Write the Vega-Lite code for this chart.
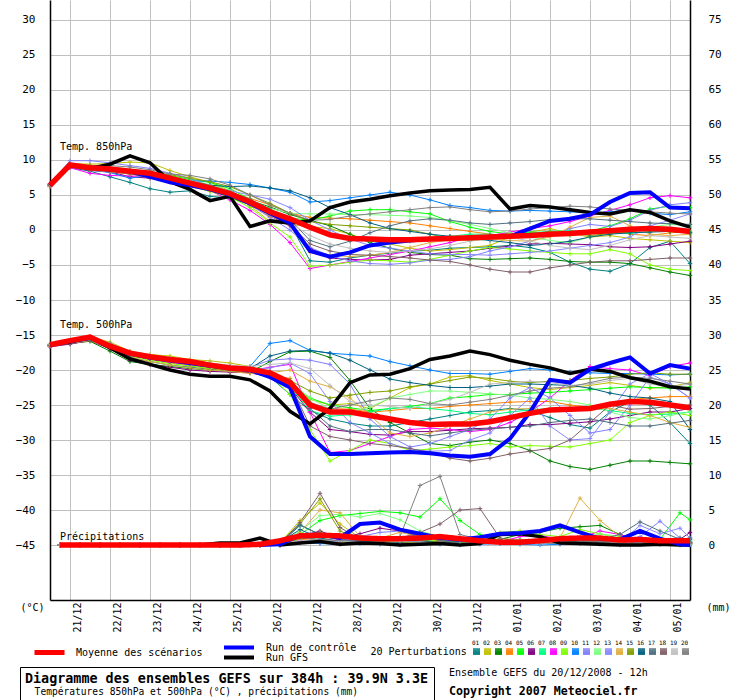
{
"$schema": "https://vega.github.io/schema/vega-lite/v6.json",
"width": 640, "height": 600,
"autosize": {"type": "none"},
"padding": {"left": 50, "top": 0, "right": 50, "bottom": 100},
"background": "white",
"config": {
 "view": {"stroke": null},
 "font": "DejaVu Sans Mono",
 "axis": {"labelFont": "DejaVu Sans Mono", "titleFont": "DejaVu Sans Mono", "labelColor": "black", "titleColor": "black", "ticks": false, "domainColor": "black", "domainWidth": 1.5, "gridColor": "#c0c0c0", "gridOpacity": 1, "gridWidth": 1},
 "legend": {"labelFont": "DejaVu Sans Mono", "titleFont": "DejaVu Sans Mono", "labelColor": "black", "titleColor": "black", "padding": 0, "labelLimit": 600, "titleLimit": 600},
 "title": {"font": "DejaVu Sans Mono", "subtitleFont": "DejaVu Sans Mono"}
},
"title": {"text": "Ensemble GEFS du 20/12/2008 - 12h", "subtitle": "Copyright 2007 Meteociel.fr", "orient": "top", "anchor": "start", "frame": "group", "offset": 0, "dx": 399, "dy": 698, "fontSize": 10, "fontWeight": "normal", "color": "black", "subtitleFontSize": 11.6, "subtitleFontWeight": "bold", "subtitleColor": "black", "subtitlePadding": 8},
"datasets": {
 "temp": [
  {"h":0,"v":"850","m":6.4,"c":6.4,"g":6.4,"01":6.3,"02":6.6,"03":6.4,"04":6.4,"05":6.5,"06":6.2,"07":6.5,"08":6.3,"09":6.4,"10":6.6,"11":6.6,"12":6.5,"13":6.4,"14":6.2,"15":6.5,"16":6.5,"17":6.4,"18":6.4,"19":6.5,"20":6.5},
  {"h":12,"v":"850","m":9.3,"c":9.2,"g":9.3,"01":8.9,"02":9.5,"03":9.2,"04":9.1,"05":9.4,"06":9.0,"07":9.3,"08":8.9,"09":9.2,"10":9.3,"11":9.9,"12":9.4,"13":9.4,"14":9.0,"15":9.4,"16":9.3,"17":9.3,"18":9.1,"19":9.4,"20":9.5},
  {"h":24,"v":"850","m":8.9,"c":8.9,"g":8.8,"01":8.4,"02":9.4,"03":8.8,"04":8.6,"05":9.0,"06":8.5,"07":9.0,"08":8.1,"09":8.7,"10":8.6,"11":9.9,"12":9.0,"13":9.0,"14":8.6,"15":9.1,"16":8.9,"17":8.8,"18":8.7,"19":9.0,"20":9.2},
  {"h":36,"v":"850","m":8.7,"c":8.6,"g":9.4,"01":7.6,"02":9.5,"03":8.5,"04":8.3,"05":8.9,"06":8.3,"07":8.8,"08":7.8,"09":8.5,"10":8.2,"11":9.6,"12":8.8,"13":8.7,"14":8.3,"15":8.8,"16":8.6,"17":8.6,"18":8.4,"19":8.8,"20":9.2},
  {"h":48,"v":"850","m":8.4,"c":8.4,"g":10.6,"01":6.8,"02":9.7,"03":8.2,"04":8.0,"05":8.6,"06":7.6,"07":8.6,"08":7.7,"09":8.1,"10":7.4,"11":9.2,"12":8.5,"13":8.4,"14":8.0,"15":8.6,"16":8.3,"17":8.3,"18":8.0,"19":8.5,"20":9.0},
  {"h":60,"v":"850","m":8.1,"c":7.6,"g":9.6,"01":5.9,"02":9.6,"03":7.8,"04":7.6,"05":8.3,"06":7.4,"07":8.2,"08":7.7,"09":7.7,"10":7.8,"11":8.8,"12":8.2,"13":8.0,"14":7.5,"15":8.3,"16":8.0,"17":7.9,"18":7.6,"19":8.1,"20":8.6},
  {"h":72,"v":"850","m":7.4,"c":6.8,"g":6.9,"01":5.4,"02":8.5,"03":7.2,"04":7.0,"05":7.8,"06":6.9,"07":7.5,"08":7.2,"09":7.0,"10":7.2,"11":8.1,"12":7.6,"13":7.3,"14":6.8,"15":7.9,"16":7.5,"17":7.4,"18":7.0,"19":7.5,"20":8.0},
  {"h":84,"v":"850","m":6.7,"c":6.4,"g":5.8,"01":5.6,"02":7.6,"03":6.6,"04":6.7,"05":7.2,"06":6.5,"07":7.0,"08":6.5,"09":6.3,"10":7.0,"11":7.4,"12":7.0,"13":6.6,"14":6.2,"15":7.4,"16":7.0,"17":6.7,"18":6.4,"19":7.0,"20":7.8},
  {"h":96,"v":"850","m":6.0,"c":5.8,"g":4.2,"01":4.8,"02":6.8,"03":5.8,"04":6.2,"05":6.8,"06":5.7,"07":6.4,"08":5.6,"09":5.5,"10":7.0,"11":6.3,"12":6.5,"13":6.0,"14":5.6,"15":6.9,"16":6.4,"17":6.2,"18":5.8,"19":6.3,"20":7.3},
  {"h":108,"v":"850","m":5.2,"c":5.0,"g":4.8,"01":4.6,"02":5.6,"03":5.4,"04":5.4,"05":5.9,"06":5.0,"07":5.6,"08":4.3,"09":4.7,"10":6.8,"11":5.0,"12":5.6,"13":5.6,"14":4.8,"15":6.2,"16":6.2,"17":5.4,"18":5.0,"19":5.5,"20":6.4},
  {"h":120,"v":"850","m":4.0,"c":3.8,"g":0.5,"01":3.6,"02":3.5,"03":4.2,"04":4.5,"05":4.4,"06":3.6,"07":4.0,"08":2.8,"09":3.2,"10":6.5,"11":3.6,"12":4.2,"13":5.0,"14":3.6,"15":5.0,"16":6.3,"17":4.4,"18":3.8,"19":4.0,"20":5.0},
  {"h":132,"v":"850","m":2.6,"c":2.4,"g":1.3,"01":2.3,"02":1.2,"03":3.3,"04":3.6,"05":2.8,"06":2.0,"07":2.6,"08":0.8,"09":1.0,"10":6.0,"11":1.8,"12":3.1,"13":4.4,"14":2.0,"15":3.8,"16":6.0,"17":3.0,"18":2.2,"19":2.4,"20":3.6},
  {"h":144,"v":"850","m":1.6,"c":1.0,"g":1.0,"01":0.9,"02":0.8,"03":2.2,"04":2.4,"05":1.7,"06":0.6,"07":1.6,"08":-1.8,"09":-1.0,"10":5.4,"11":0.0,"12":2.4,"13":3.2,"14":0.8,"15":2.4,"16":5.6,"17":1.5,"18":0.7,"19":1.0,"20":2.4},
  {"h":156,"v":"850","m":0.4,"c":-3.0,"g":1.3,"01":-4.4,"02":0.5,"03":1.4,"04":1.8,"05":1.4,"06":-2.6,"07":0.5,"08":-5.5,"09":-5.2,"10":4.0,"11":-2.5,"12":2.3,"13":1.4,"14":-3.2,"15":1.2,"16":4.6,"17":-1.5,"18":-2.0,"19":-0.8,"20":1.4},
  {"h":168,"v":"850","m":-0.7,"c":-3.8,"g":3.2,"01":-4.6,"02":0.2,"03":0.6,"04":1.7,"05":2.0,"06":-4.0,"07":-0.5,"08":-5.0,"09":-5.0,"10":4.2,"11":-3.7,"12":2.3,"13":0.0,"14":-3.6,"15":0.8,"16":3.2,"17":-2.4,"18":-3.0,"19":-2.0,"20":1.5},
  {"h":180,"v":"850","m":-1.2,"c":-3.2,"g":4.0,"01":-4.0,"02":-0.6,"03":-0.6,"04":1.6,"05":2.7,"06":-4.2,"07":-1.2,"08":-4.5,"09":-4.6,"10":4.6,"11":-4.4,"12":2.2,"13":-1.3,"14":-3.8,"15":0.6,"16":2.2,"17":-1.6,"18":-3.5,"19":-2.6,"20":2.0},
  {"h":192,"v":"850","m":-1.3,"c":-2.2,"g":4.4,"01":-3.6,"02":-1.5,"03":-1.8,"04":1.4,"05":2.9,"06":-4.3,"07":-1.6,"08":-4.0,"09":-4.3,"10":5.0,"11":-4.8,"12":2.2,"13":-2.2,"14":-3.6,"15":0.4,"16":1.0,"17":-0.4,"18":-3.6,"19":-3.0,"20":2.3},
  {"h":204,"v":"850","m":-1.4,"c":-1.8,"g":4.9,"01":-3.3,"02":-2.0,"03":-2.6,"04":1.2,"05":2.9,"06":-4.2,"07":-1.8,"08":-3.5,"09":-4.4,"10":5.4,"11":-4.9,"12":2.1,"13":-2.6,"14":-3.2,"15":0.2,"16":0.2,"17":0.6,"18":-3.8,"19":-3.2,"20":2.6},
  {"h":216,"v":"850","m":-1.4,"c":-1.5,"g":5.3,"01":-3.0,"02":-2.6,"03":-3.2,"04":1.0,"05":2.6,"06":-3.6,"07":-1.6,"08":-3.0,"09":-4.6,"10":5.0,"11":-4.7,"12":2.0,"13":-3.0,"14":-2.5,"15":0.0,"16":-0.2,"17":1.3,"18":-4.0,"19":-3.0,"20":2.9},
  {"h":228,"v":"850","m":-1.3,"c":-1.3,"g":5.6,"01":-2.9,"02":-3.0,"03":-3.5,"04":0.6,"05":2.3,"06":-3.4,"07":-1.2,"08":-2.4,"09":-4.2,"10":4.3,"11":-4.3,"12":1.8,"13":-3.4,"14":-1.8,"15":-0.6,"16":-0.6,"17":1.6,"18":-4.3,"19":-2.7,"20":3.2},
  {"h":240,"v":"850","m":-1.2,"c":-1.2,"g":5.7,"01":-2.6,"02":-2.8,"03":-3.6,"04":0.2,"05":1.2,"06":-3.2,"07":-0.9,"08":-1.8,"09":-3.6,"10":3.5,"11":-4.2,"12":1.3,"13":-3.5,"14":-1.4,"15":-1.2,"16":-0.9,"17":1.4,"18":-4.5,"19":-2.2,"20":3.3},
  {"h":252,"v":"850","m":-1.1,"c":-1.1,"g":5.8,"01":-2.5,"02":-2.5,"03":-4.1,"04":-0.2,"05":0.4,"06":-3.0,"07":-0.6,"08":-1.0,"09":-3.0,"10":3.2,"11":-3.8,"12":0.8,"13":-3.5,"14":-1.3,"15":-1.5,"16":-1.2,"17":1.0,"18":-5.0,"19":-1.6,"20":2.9},
  {"h":264,"v":"850","m":-1.0,"c":-1.0,"g":6.1,"01":-2.4,"02":-2.2,"03":-4.2,"04":-0.6,"05":-0.2,"06":-2.6,"07":-0.6,"08":-0.8,"09":-2.5,"10":2.8,"11":-3.0,"12":0.2,"13":-3.6,"14":-1.3,"15":-1.3,"16":-1.5,"17":0.8,"18":-5.6,"19":-1.2,"20":2.6},
  {"h":276,"v":"850","m":-0.9,"c":-0.9,"g":3.0,"01":-2.2,"02":-1.0,"03":-4.1,"04":-0.8,"05":-0.6,"06":-2.3,"07":-0.8,"08":-0.3,"09":-2.7,"10":2.7,"11":-2.4,"12":-0.4,"13":-3.4,"14":-1.5,"15":-0.9,"16":-1.8,"17":1.0,"18":-6.0,"19":-1.0,"20":2.7},
  {"h":288,"v":"850","m":-0.8,"c":0.2,"g":3.5,"01":-2.5,"02":-0.3,"03":-4.0,"04":-0.6,"05":-0.3,"06":-2.0,"07":-0.4,"08":0.2,"09":-3.0,"10":2.8,"11":-1.6,"12":-1.0,"13":-3.2,"14":-1.6,"15":-0.6,"16":-2.2,"17":1.2,"18":-6.0,"19":-1.6,"20":3.0},
  {"h":300,"v":"850","m":-0.6,"c":1.3,"g":3.3,"01":-3.2,"02":0.2,"03":-4.2,"04":-0.7,"05":-0.4,"06":-1.9,"07":-0.2,"08":0.6,"09":-3.2,"10":2.7,"11":-0.8,"12":-1.5,"13":-3.0,"14":-1.0,"15":-0.2,"16":-2.0,"17":1.5,"18":-5.4,"19":-2.2,"20":3.2},
  {"h":312,"v":"850","m":-0.5,"c":1.6,"g":2.9,"01":-4.6,"02":-0.5,"03":-4.5,"04":-0.5,"05":-0.8,"06":-2.0,"07":-0.1,"08":1.2,"09":-3.4,"10":2.6,"11":0.2,"12":-1.8,"13":-2.6,"14":0.4,"15":-0.4,"16":-1.6,"17":1.6,"18":-5.0,"19":-2.6,"20":3.4},
  {"h":324,"v":"850","m":-0.3,"c":2.2,"g":2.5,"01":-5.6,"02":-1.0,"03":-4.6,"04":-0.2,"05":-0.2,"06":-2.1,"07":-0.3,"08":2.0,"09":-3.4,"10":2.4,"11":0.8,"12":-1.0,"13":-2.2,"14":1.8,"15":-0.8,"16":-1.0,"17":1.6,"18":-4.6,"19":-2.8,"20":3.3},
  {"h":336,"v":"850","m":-0.1,"c":4.0,"g":2.3,"01":-5.9,"02":-0.8,"03":-4.6,"04":0.2,"05":0.6,"06":-2.4,"07":-0.4,"08":2.8,"09":-2.8,"10":2.6,"11":0.5,"12":-0.3,"13":-1.8,"14":2.0,"15":-0.5,"16":-0.6,"17":1.4,"18":-4.4,"19":-2.2,"20":3.0},
  {"h":348,"v":"850","m":0.1,"c":5.3,"g":2.9,"01":-4.8,"02":-1.2,"03":-4.8,"04":-0.6,"05":1.6,"06":-2.5,"07":-0.5,"08":3.6,"09":-3.4,"10":2.9,"11":1.4,"12":0.0,"13":-1.0,"14":0.6,"15":-0.3,"16":-0.4,"17":1.2,"18":-4.4,"19":-1.4,"20":2.8},
  {"h":360,"v":"850","m":0.2,"c":5.4,"g":2.5,"01":-2.5,"02":-1.4,"03":-5.4,"04":-0.8,"05":3.0,"06":-2.4,"07":-0.2,"08":4.6,"09":-5.0,"10":2.4,"11":2.8,"12":0.4,"13":0.6,"14":-0.6,"15":0.2,"16":-0.3,"17":1.0,"18":-4.2,"19":-0.8,"20":2.6},
  {"h":372,"v":"850","m":0.1,"c":3.2,"g":1.3,"01":-1.6,"02":-1.6,"03":-6.0,"04":-0.4,"05":3.4,"06":-2.0,"07":0.0,"08":4.9,"09":-5.6,"10":2.2,"11":3.6,"12":0.8,"13":1.4,"14":-0.8,"15":-0.2,"16":-0.2,"17":0.9,"18":-4.0,"19":-1.0,"20":2.4},
  {"h":384,"v":"850","m":-0.2,"c":3.1,"g":0.4,"01":-4.8,"02":-1.8,"03":-6.5,"04":-0.2,"05":3.2,"06":-1.6,"07":-0.3,"08":4.6,"09":-5.8,"10":2.6,"11":3.9,"12":0.6,"13":2.3,"14":-0.6,"15":-0.4,"16":-0.4,"17":0.8,"18":-4.0,"19":-1.2,"20":2.3},
  {"h":0,"v":"500","m":-16.4,"c":-16.4,"g":-16.4,"01":-16.6,"02":-16.4,"03":-16.5,"04":-16.6,"05":-16.4,"06":-16.7,"07":-16.4,"08":-16.5,"09":-16.4,"10":-16.5,"11":-16.3,"12":-16.3,"13":-16.5,"14":-16.6,"15":-16.4,"16":-16.5,"17":-16.4,"18":-16.5,"19":-16.3,"20":-16.5},
  {"h":12,"v":"500","m":-15.8,"c":-15.9,"g":-16.0,"01":-16.2,"02":-15.8,"03":-16.2,"04":-16.1,"05":-16.0,"06":-16.3,"07":-16.0,"08":-16.0,"09":-16.0,"10":-16.0,"11":-15.8,"12":-15.8,"13":-16.0,"14":-16.2,"15":-16.0,"16":-16.1,"17":-16.0,"18":-16.1,"19":-15.8,"20":-15.9},
  {"h":24,"v":"500","m":-15.3,"c":-15.4,"g":-15.3,"01":-15.6,"02":-15.3,"03":-15.9,"04":-15.6,"05":-15.7,"06":-15.8,"07":-15.6,"08":-15.5,"09":-15.5,"10":-15.5,"11":-15.4,"12":-15.5,"13":-15.6,"14":-15.8,"15":-15.6,"16":-15.7,"17":-15.5,"18":-15.6,"19":-15.3,"20":-15.2},
  {"h":36,"v":"500","m":-16.6,"c":-16.6,"g":-16.8,"01":-16.8,"02":-16.0,"03":-17.3,"04":-16.6,"05":-16.6,"06":-17.0,"07":-16.5,"08":-16.5,"09":-16.7,"10":-16.5,"11":-16.3,"12":-16.4,"13":-16.6,"14":-16.8,"15":-16.6,"16":-16.6,"17":-16.4,"18":-16.6,"19":-16.2,"20":-16.2},
  {"h":48,"v":"500","m":-17.6,"c":-17.7,"g":-18.4,"01":-18.2,"02":-17.3,"03":-18.8,"04":-18.0,"05":-17.7,"06":-18.6,"07":-17.8,"08":-17.8,"09":-18.0,"10":-17.7,"11":-17.5,"12":-17.6,"13":-17.8,"14":-18.2,"15":-17.8,"16":-17.8,"17":-17.6,"18":-17.8,"19":-17.4,"20":-17.4},
  {"h":60,"v":"500","m":-18.1,"c":-18.2,"g":-19.2,"01":-18.8,"02":-17.8,"03":-19.2,"04":-18.5,"05":-18.2,"06":-19.2,"07":-18.3,"08":-18.5,"09":-18.6,"10":-18.3,"11":-18.0,"12":-18.2,"13":-18.4,"14":-18.8,"15":-18.3,"16":-18.2,"17":-18.2,"18":-18.4,"19":-17.9,"20":-18.0},
  {"h":72,"v":"500","m":-18.5,"c":-18.6,"g":-20.0,"01":-19.3,"02":-18.0,"03":-19.5,"04":-19.0,"05":-18.6,"06":-19.6,"07":-18.8,"08":-18.9,"09":-19.1,"10":-18.7,"11":-18.4,"12":-18.6,"13":-18.8,"14":-19.3,"15":-18.7,"16":-18.6,"17":-18.7,"18":-18.8,"19":-18.3,"20":-18.4},
  {"h":84,"v":"500","m":-18.8,"c":-19.0,"g":-20.6,"01":-19.6,"02":-18.5,"03":-19.8,"04":-19.4,"05":-19.0,"06":-20.0,"07":-19.1,"08":-19.3,"09":-19.4,"10":-19.1,"11":-18.8,"12":-19.0,"13":-19.2,"14":-19.7,"15":-19.1,"16":-18.9,"17":-19.0,"18":-19.2,"19":-18.7,"20":-18.8},
  {"h":96,"v":"500","m":-19.3,"c":-19.4,"g":-20.9,"01":-19.9,"02":-18.7,"03":-20.0,"04":-19.8,"05":-19.3,"06":-20.2,"07":-19.5,"08":-19.6,"09":-19.8,"10":-19.4,"11":-19.2,"12":-19.3,"13":-19.5,"14":-20.0,"15":-19.4,"16":-19.3,"17":-19.4,"18":-19.6,"19":-19.0,"20":-19.1},
  {"h":108,"v":"500","m":-19.7,"c":-19.8,"g":-20.9,"01":-20.0,"02":-19.0,"03":-20.2,"04":-20.0,"05":-19.6,"06":-20.3,"07":-19.7,"08":-19.8,"09":-19.9,"10":-19.7,"11":-19.5,"12":-19.6,"13":-19.8,"14":-20.2,"15":-19.7,"16":-19.6,"17":-19.6,"18":-19.9,"19":-19.3,"20":-19.5},
  {"h":120,"v":"500","m":-19.9,"c":-20.0,"g":-21.4,"01":-20.2,"02":-19.5,"03":-20.3,"04":-20.4,"05":-19.9,"06":-20.4,"07":-19.9,"08":-20.1,"09":-20.2,"10":-19.5,"11":-19.6,"12":-19.9,"13":-20.0,"14":-20.5,"15":-20.0,"16":-19.8,"17":-19.8,"18":-20.2,"19":-19.5,"20":-19.7},
  {"h":132,"v":"500","m":-20.4,"c":-21.0,"g":-23.0,"01":-21.0,"02":-20.2,"03":-18.8,"04":-20.8,"05":-20.4,"06":-21.0,"07":-20.6,"08":-19.6,"09":-20.8,"10":-16.2,"11":-18.6,"12":-20.3,"13":-19.7,"14":-20.4,"15":-20.5,"16":-18.0,"17":-20.3,"18":-20.6,"19":-19.2,"20":-20.3},
  {"h":144,"v":"500","m":-21.8,"c":-22.5,"g":-25.9,"01":-23.5,"02":-22.0,"03":-17.4,"04":-21.2,"05":-22.0,"06":-22.5,"07":-22.4,"08":-19.2,"09":-23.5,"10":-15.8,"11":-18.4,"12":-21.6,"13":-19.0,"14":-20.0,"15":-21.5,"16":-17.3,"17":-21.5,"18":-22.0,"19":-19.0,"20":-21.8},
  {"h":156,"v":"500","m":-25.0,"c":-29.5,"g":-27.7,"01":-25.8,"02":-24.2,"03":-17.3,"04":-25.0,"05":-24.0,"06":-26.0,"07":-25.8,"08":-26.0,"09":-28.5,"10":-17.2,"11":-18.6,"12":-24.0,"13":-20.5,"14":-21.6,"15":-23.0,"16":-17.2,"17":-25.5,"18":-28.0,"19":-19.8,"20":-24.6},
  {"h":168,"v":"500","m":-26.0,"c":-32.0,"g":-25.5,"01":-27.0,"02":-25.0,"03":-18.2,"04":-25.5,"05":-25.0,"06":-28.5,"07":-26.6,"08":-31.8,"09":-33.0,"10":-17.6,"11":-19.2,"12":-25.6,"13":-24.5,"14":-22.4,"15":-24.0,"16":-17.6,"17":-28.0,"18":-29.5,"19":-22.2,"20":-25.6},
  {"h":180,"v":"500","m":-26.0,"c":-32.0,"g":-21.8,"01":-27.6,"02":-24.8,"03":-21.5,"04":-25.6,"05":-25.4,"06":-28.8,"07":-26.4,"08":-31.5,"09":-31.5,"10":-17.8,"11":-22.0,"12":-26.0,"13":-27.5,"14":-24.0,"15":-23.6,"16":-18.6,"17":-28.8,"18":-30.0,"19":-24.5,"20":-25.0},
  {"h":192,"v":"500","m":-26.5,"c":-31.9,"g":-20.7,"01":-28.0,"02":-25.5,"03":-25.5,"04":-26.0,"05":-25.8,"06":-29.2,"07":-26.0,"08":-30.5,"09":-30.0,"10":-18.0,"11":-27.0,"12":-25.3,"13":-29.0,"14":-26.5,"15":-23.2,"16":-20.0,"17":-28.5,"18":-30.5,"19":-25.0,"20":-24.4},
  {"h":204,"v":"500","m":-27.0,"c":-31.8,"g":-20.6,"01":-28.0,"02":-24.0,"03":-27.5,"04":-25.8,"05":-25.5,"06":-29.3,"07":-25.5,"08":-29.5,"09":-30.5,"10":-18.8,"11":-29.5,"12":-24.0,"13":-30.5,"14":-29.0,"15":-23.0,"16":-21.3,"17":-28.5,"18":-30.8,"19":-25.2,"20":-24.0},
  {"h":216,"v":"500","m":-27.5,"c":-31.7,"g":-19.8,"01":-27.5,"02":-22.5,"03":-29.0,"04":-25.5,"05":-25.2,"06":-28.8,"07":-25.3,"08":-28.5,"09":-31.5,"10":-19.4,"11":-31.0,"12":-23.5,"13":-31.3,"14":-29.5,"15":-22.4,"16":-21.8,"17":-29.0,"18":-31.2,"19":-25.5,"20":-24.2},
  {"h":228,"v":"500","m":-27.8,"c":-31.9,"g":-18.5,"01":-27.0,"02":-22.0,"03":-30.5,"04":-25.5,"05":-24.8,"06":-28.8,"07":-25.5,"08":-28.3,"09":-31.3,"10":-20.0,"11":-30.5,"12":-23.0,"13":-31.6,"14":-29.0,"15":-22.0,"16":-22.2,"17":-29.4,"18":-31.8,"19":-24.8,"20":-24.8},
  {"h":240,"v":"500","m":-27.7,"c":-32.2,"g":-18.0,"01":-26.5,"02":-21.0,"03":-30.8,"04":-25.2,"05":-24.0,"06":-28.6,"07":-25.8,"08":-28.5,"09":-31.0,"10":-20.5,"11":-29.5,"12":-23.0,"13":-31.5,"14":-28.0,"15":-21.5,"16":-22.5,"17":-29.0,"18":-32.6,"19":-24.2,"20":-25.0},
  {"h":252,"v":"500","m":-27.7,"c":-32.4,"g":-17.3,"01":-26.0,"02":-20.8,"03":-30.3,"04":-25.0,"05":-23.8,"06":-28.4,"07":-26.2,"08":-28.8,"09":-30.8,"10":-20.5,"11":-28.5,"12":-23.2,"13":-30.0,"14":-27.0,"15":-21.0,"16":-22.5,"17":-28.6,"18":-33.0,"19":-23.2,"20":-24.6},
  {"h":264,"v":"500","m":-27.4,"c":-32.0,"g":-17.8,"01":-25.8,"02":-21.5,"03":-30.0,"04":-24.8,"05":-23.5,"06":-28.3,"07":-26.4,"08":-28.5,"09":-30.5,"10":-20.6,"11":-27.0,"12":-23.4,"13":-29.0,"14":-26.0,"15":-21.2,"16":-22.3,"17":-28.4,"18":-32.6,"19":-22.0,"20":-24.2},
  {"h":276,"v":"500","m":-26.8,"c":-29.8,"g":-18.6,"01":-25.5,"02":-22.0,"03":-30.5,"04":-24.6,"05":-23.5,"06":-28.2,"07":-26.0,"08":-27.5,"09":-31.0,"10":-20.2,"11":-24.0,"12":-23.6,"13":-26.5,"14":-25.6,"15":-21.6,"16":-22.0,"17":-28.2,"18":-32.0,"19":-21.8,"20":-23.6},
  {"h":288,"v":"500","m":-26.2,"c":-26.0,"g":-19.2,"01":-25.8,"02":-22.5,"03":-31.5,"04":-24.5,"05":-23.3,"06":-27.8,"07":-25.7,"08":-26.0,"09":-30.8,"10":-19.8,"11":-22.5,"12":-24.0,"13":-24.0,"14":-25.5,"15":-21.8,"16":-22.0,"17":-28.0,"18":-31.6,"19":-21.6,"20":-23.0},
  {"h":300,"v":"500","m":-25.7,"c":-21.4,"g":-19.7,"01":-26.8,"02":-22.8,"03":-33.0,"04":-24.5,"05":-23.2,"06":-27.8,"07":-25.5,"08":-24.0,"09":-30.9,"10":-20.0,"11":-24.0,"12":-24.2,"13":-28.0,"14":-25.8,"15":-21.6,"16":-22.1,"17":-27.5,"18":-31.2,"19":-21.8,"20":-22.6},
  {"h":312,"v":"500","m":-25.6,"c":-21.8,"g":-20.5,"01":-27.8,"02":-22.5,"03":-33.8,"04":-25.0,"05":-23.0,"06":-27.6,"07":-25.4,"08":-21.5,"09":-31.0,"10":-20.3,"11":-26.5,"12":-24.5,"13":-30.0,"14":-25.6,"15":-21.5,"16":-22.2,"17":-27.2,"18":-30.0,"19":-22.2,"20":-22.4},
  {"h":324,"v":"500","m":-25.5,"c":-19.9,"g":-19.9,"01":-28.3,"02":-22.2,"03":-34.2,"04":-25.3,"05":-22.8,"06":-27.4,"07":-25.4,"08":-19.5,"09":-30.5,"10":-20.4,"11":-29.0,"12":-25.0,"13":-29.8,"14":-25.4,"15":-21.2,"16":-22.6,"17":-27.0,"18":-27.5,"19":-22.0,"20":-21.8},
  {"h":336,"v":"500","m":-24.9,"c":-19.0,"g":-20.2,"01":-26.0,"02":-21.8,"03":-33.6,"04":-24.8,"05":-22.6,"06":-27.0,"07":-25.8,"08":-19.8,"09":-30.0,"10":-20.5,"11":-28.5,"12":-26.0,"13":-26.0,"14":-25.5,"15":-21.0,"16":-23.3,"17":-27.5,"18":-25.0,"19":-21.5,"20":-21.2},
  {"h":348,"v":"500","m":-24.5,"c":-18.2,"g":-21.1,"01":-24.5,"02":-22.2,"03":-33.0,"04":-24.2,"05":-22.4,"06":-26.5,"07":-26.2,"08":-20.0,"09":-27.5,"10":-20.5,"11":-25.0,"12":-26.8,"13":-22.0,"14":-26.0,"15":-20.6,"16":-23.8,"17":-28.0,"18":-25.6,"19":-21.2,"20":-21.0},
  {"h":360,"v":"500","m":-24.6,"c":-20.5,"g":-21.6,"01":-25.0,"02":-22.6,"03":-33.0,"04":-24.0,"05":-22.5,"06":-26.0,"07":-26.4,"08":-20.8,"09":-26.5,"10":-20.6,"11":-21.0,"12":-27.0,"13":-20.5,"14":-26.5,"15":-20.4,"16":-24.0,"17":-28.0,"18":-25.5,"19":-22.0,"20":-21.2},
  {"h":372,"v":"500","m":-25.0,"c":-19.3,"g":-22.4,"01":-27.5,"02":-22.4,"03":-33.2,"04":-23.8,"05":-22.6,"06":-26.0,"07":-26.3,"08":-19.5,"09":-26.0,"10":-20.7,"11":-22.0,"12":-26.5,"13":-22.0,"14":-27.5,"15":-20.6,"16":-24.5,"17":-27.6,"18":-25.2,"19":-22.4,"20":-21.6},
  {"h":384,"v":"500","m":-25.4,"c":-19.8,"g":-22.7,"01":-30.5,"02":-21.8,"03":-33.4,"04":-23.8,"05":-22.4,"06":-25.5,"07":-26.0,"08":-19.0,"09":-26.5,"10":-20.6,"11":-24.0,"12":-26.0,"13":-24.0,"14":-28.2,"15":-20.6,"16":-28.5,"17":-27.2,"18":-25.0,"19":-22.0,"20":-22.0}
 ],
 "prec": [
  {"h":6,"m":0,"c":0,"g":0,"01":0,"02":0,"03":0,"04":0,"05":0,"06":0,"07":0,"08":0,"09":0,"10":0,"11":0,"12":0,"13":0,"14":0,"15":0,"16":0,"17":0,"18":0,"19":0,"20":0},
  {"h":18,"m":0,"c":0,"g":0,"01":0,"02":0,"03":0,"04":0,"05":0,"06":0,"07":0,"08":0,"09":0,"10":0,"11":0,"12":0,"13":0,"14":0,"15":0,"16":0,"17":0,"18":0,"19":0,"20":0},
  {"h":30,"m":0,"c":0,"g":0,"01":0,"02":0,"03":0,"04":0,"05":0,"06":0,"07":0,"08":0,"09":0,"10":0,"11":0,"12":0,"13":0,"14":0,"15":0,"16":0,"17":0,"18":0,"19":0,"20":0},
  {"h":42,"m":0,"c":0,"g":0,"01":0,"02":0,"03":0,"04":0,"05":0,"06":0,"07":0,"08":0,"09":0,"10":0,"11":0,"12":0,"13":0,"14":0,"15":0,"16":0,"17":0,"18":0,"19":0,"20":0},
  {"h":54,"m":0,"c":0,"g":0,"01":0,"02":0,"03":0,"04":0,"05":0,"06":0,"07":0,"08":0,"09":0,"10":0,"11":0,"12":0,"13":0,"14":0,"15":0,"16":0,"17":0,"18":0,"19":0,"20":0},
  {"h":66,"m":0,"c":0,"g":0,"01":0,"02":0,"03":0,"04":0,"05":0,"06":0,"07":0,"08":0,"09":0,"10":0,"11":0,"12":0,"13":0,"14":0,"15":0,"16":0,"17":0,"18":0,"19":0,"20":0},
  {"h":78,"m":0,"c":0,"g":0,"01":0,"02":0,"03":0,"04":0,"05":0,"06":0,"07":0,"08":0,"09":0,"10":0,"11":0,"12":0,"13":0,"14":0,"15":0,"16":0,"17":0,"18":0,"19":0,"20":0},
  {"h":90,"m":0,"c":0,"g":0,"01":0,"02":0,"03":0,"04":0,"05":0,"06":0,"07":0,"08":0,"09":0,"10":0,"11":0,"12":0,"13":0,"14":0,"15":0,"16":0,"17":0,"18":0,"19":0,"20":0},
  {"h":102,"m":0,"c":0,"g":0.3,"01":0,"02":0,"03":0,"04":0,"05":0,"06":0,"07":0,"08":0,"09":0,"10":0,"11":0,"12":0,"13":0,"14":0,"15":0,"16":0,"17":0,"18":0,"19":0,"20":0},
  {"h":114,"m":0,"c":0,"g":0.3,"01":0,"02":0,"03":0,"04":0,"05":0,"06":0,"07":0,"08":0,"09":0,"10":0,"11":0,"12":0,"13":0,"14":0,"15":0,"16":0,"17":0,"18":0,"19":0,"20":0},
  {"h":126,"m":0.1,"c":0,"g":1.0,"01":0,"02":0,"03":0,"04":0,"05":0,"06":0,"07":0,"08":0,"09":0,"10":0,"11":0,"12":0,"13":0,"14":0,"15":0,"16":0,"17":0,"18":0,"19":0,"20":0},
  {"h":138,"m":0.6,"c":0.1,"g":0.0,"01":0.2,"02":0.3,"03":0.1,"04":0.1,"05":0.2,"06":0.0,"07":0.1,"08":0.0,"09":0.1,"10":0.0,"11":0.0,"12":0.2,"13":0.0,"14":0.1,"15":0.3,"16":0.4,"17":0.2,"18":0.2,"19":0.1,"20":0.1},
  {"h":150,"m":1.3,"c":1.4,"g":0.3,"01":2.8,"02":3.5,"03":1.0,"04":0.8,"05":1.5,"06":1.2,"07":0.9,"08":0.6,"09":1.4,"10":0.3,"11":0.5,"12":2.0,"13":0.4,"14":1.8,"15":3.0,"16":2.2,"17":2.9,"18":3.2,"19":0.6,"20":1.0},
  {"h":162,"m":1.4,"c":1.5,"g":0.5,"01":1.5,"02":6.0,"03":0.8,"04":0.6,"05":3.5,"06":2.0,"07":1.2,"08":0.4,"09":1.8,"10":0.2,"11":0.8,"12":4.2,"13":0.3,"14":5.0,"15":6.6,"16":1.0,"17":1.5,"18":7.4,"19":0.8,"20":0.8},
  {"h":174,"m":1.3,"c":1.0,"g":0.1,"01":0.8,"02":3.0,"03":0.5,"04":0.4,"05":4.2,"06":1.0,"07":0.8,"08":0.8,"09":1.0,"10":0.1,"11":0.6,"12":4.4,"13":0.6,"14":4.6,"15":2.0,"16":0.5,"17":0.8,"18":2.5,"19":0.5,"20":0.6},
  {"h":186,"m":1.0,"c":3.0,"g":0.3,"01":0.5,"02":1.0,"03":0.6,"04":0.5,"05":4.5,"06":1.6,"07":0.6,"08":0.5,"09":0.8,"10":0.2,"11":1.2,"12":4.0,"13":0.5,"14":1.2,"15":0.8,"16":0.6,"17":0.5,"18":0.8,"19":0.4,"20":0.8},
  {"h":198,"m":0.9,"c":3.2,"g":0.2,"01":0.3,"02":0.5,"03":0.4,"04":0.3,"05":4.8,"06":2.4,"07":0.4,"08":0.3,"09":0.6,"10":0.1,"11":1.8,"12":4.5,"13":0.8,"14":1.0,"15":0.5,"16":0.3,"17":0.4,"18":0.6,"19":0.3,"20":1.0},
  {"h":210,"m":0.9,"c":2.2,"g":0,"01":0.5,"02":0.3,"03":0.3,"04":0.2,"05":4.6,"06":2.0,"07":0.6,"08":0.2,"09":0.5,"10":0.0,"11":2.0,"12":3.6,"13":0.6,"14":1.8,"15":0.4,"16":0.4,"17":1.0,"18":1.0,"19":0.5,"20":1.2},
  {"h":222,"m":1.0,"c":1.6,"g":0.1,"01":0.8,"02":0.6,"03":0.2,"04":0.4,"05":4.0,"06":1.2,"07":0.3,"08":0.3,"09":0.8,"10":0.2,"11":1.5,"12":2.0,"13":0.4,"14":1.2,"15":0.3,"16":0.6,"17":1.5,"18":1.8,"19":0.4,"20":8.5},
  {"h":234,"m":1.2,"c":1.0,"g":0.2,"01":0.4,"02":0.4,"03":0.5,"04":0.3,"05":6.6,"06":0.8,"07":0.2,"08":0.5,"09":0.6,"10":0.1,"11":0.8,"12":1.2,"13":0.3,"14":0.6,"15":0.6,"16":0.3,"17":0.6,"18":3.0,"19":0.3,"20":9.8},
  {"h":246,"m":0.9,"c":0.8,"g":0,"01":0.2,"02":0.2,"03":0.3,"04":0.2,"05":3.5,"06":0.5,"07":0.3,"08":0.2,"09":0.4,"10":0.0,"11":0.5,"12":0.8,"13":0.8,"14":0.8,"15":0.4,"16":0.5,"17":0.3,"18":5.0,"19":0.2,"20":1.5},
  {"h":258,"m":0.6,"c":1.1,"g":0.2,"01":0.3,"02":0.5,"03":0.4,"04":0.3,"05":1.5,"06":0.4,"07":0.4,"08":0.3,"09":0.6,"10":0.1,"11":0.4,"12":0.5,"13":0.5,"14":0.5,"15":0.3,"16":0.6,"17":0.4,"18":5.2,"19":0.4,"20":0.8},
  {"h":270,"m":0.4,"c":1.6,"g":1.5,"01":0.6,"02":0.9,"03":0.8,"04":0.5,"05":0.6,"06":0.6,"07":0.5,"08":0.4,"09":1.8,"10":0.2,"11":0.6,"12":0.6,"13":0.6,"14":0.6,"15":0.5,"16":0.3,"17":0.5,"18":1.0,"19":0.5,"20":0.5},
  {"h":282,"m":0.4,"c":1.7,"g":1.6,"01":0.4,"02":0.8,"03":1.5,"04":0.4,"05":0.5,"06":0.8,"07":0.6,"08":1.2,"09":2.0,"10":0.1,"11":0.5,"12":0.8,"13":0.3,"14":0.4,"15":0.6,"16":0.4,"17":0.3,"18":0.5,"19":0.3,"20":0.4},
  {"h":294,"m":0.6,"c":2.0,"g":1.2,"01":0.3,"02":0.5,"03":1.8,"04":0.6,"05":0.8,"06":0.5,"07":0.3,"08":1.4,"09":1.5,"10":0.0,"11":0.4,"12":0.6,"13":0.4,"14":0.8,"15":0.8,"16":0.8,"17":0.4,"18":0.3,"19":0.2,"20":0.3},
  {"h":306,"m":0.9,"c":2.8,"g":0.3,"01":0.2,"02":0.3,"03":2.4,"04":0.3,"05":0.6,"06":0.4,"07":0.5,"08":0.8,"09":1.2,"10":0.1,"11":0.3,"12":0.5,"13":0.2,"14":1.0,"15":0.4,"16":0.5,"17":0.6,"18":0.4,"19":0.4,"20":0.2},
  {"h":318,"m":1.0,"c":1.8,"g":0.2,"01":0.5,"02":0.4,"03":2.6,"04":0.2,"05":0.5,"06":0.6,"07":0.8,"08":1.0,"09":2.2,"10":0.2,"11":0.6,"12":1.0,"13":0.5,"14":6.7,"15":0.6,"16":0.4,"17":0.5,"18":0.6,"19":0.3,"20":0.4},
  {"h":330,"m":1.0,"c":0.9,"g":0.1,"01":0.3,"02":0.2,"03":2.8,"04":0.4,"05":0.3,"06":0.3,"07":0.6,"08":2.0,"09":1.6,"10":0.1,"11":0.8,"12":1.6,"13":0.6,"14":3.5,"15":0.5,"16":0.3,"17":0.8,"18":0.5,"19":0.2,"20":0.3},
  {"h":342,"m":0.7,"c":0.8,"g":0,"01":0.2,"02":0.5,"03":1.5,"04":0.3,"05":0.4,"06":0.2,"07":0.4,"08":1.5,"09":1.0,"10":0.0,"11":0.5,"12":1.2,"13":0.3,"14":1.2,"15":0.3,"16":0.2,"17":1.5,"18":0.3,"19":0.3,"20":0.2},
  {"h":354,"m":0.8,"c":2.0,"g":0,"01":0.4,"02":0.3,"03":0.6,"04":0.2,"05":0.6,"06":0.4,"07":0.3,"08":0.6,"09":0.8,"10":0.1,"11":1.2,"12":0.8,"13":2.8,"14":0.6,"15":0.2,"16":0.5,"17":3.3,"18":0.4,"19":0.2,"20":0.3},
  {"h":366,"m":0.6,"c":0.9,"g":0.1,"01":0.2,"02":0.2,"03":0.8,"04":0.5,"05":0.8,"06":0.6,"07":0.5,"08":0.4,"09":0.6,"10":0.1,"11":3.4,"12":0.5,"13":1.6,"14":0.4,"15":0.4,"16":0.3,"17":2.0,"18":0.3,"19":0.1,"20":0.2},
  {"h":378,"m":0.6,"c":0.1,"g":0,"01":0.1,"02":0.3,"03":1.0,"04":0.3,"05":4.6,"06":0.8,"07":0.3,"08":0.5,"09":0.5,"10":0.0,"11":1.0,"12":0.4,"13":2.4,"14":0.3,"15":0.5,"16":0.2,"17":0.8,"18":0.2,"19":0.2,"20":0.1},
  {"h":384,"m":0.6,"c":0,"g":0,"01":0.1,"02":0.2,"03":0.8,"04":0.2,"05":3.6,"06":1.8,"07":0.4,"08":0.3,"09":0.4,"10":0.0,"11":0.6,"12":0.6,"13":1.0,"14":0.2,"15":0.3,"16":0.4,"17":1.0,"18":0.3,"19":0.1,"20":0.2}
 ],
 "lab": [
  {"t": "Temp. 850hPa", "h": 6, "y": 11.9},
  {"t": "Temp. 500hPa", "h": 6, "y": -13.6},
  {"t": "Précipitations", "h": 6, "y": -43.8}
 ]
},
"encoding": {
 "x": {"field": "h", "type": "quantitative",
  "scale": {"domain": [0, 384], "nice": false, "zero": false},
  "axis": {"orient": "bottom", "values": [12,36,60,84,108,132,156,180,204,228,252,276,300,324,348,372], "grid": true, "title": null, "labelAngle": 270, "labelAlign": "right", "labelBaseline": "middle", "labelOffset": 7, "labelPadding": 2, "labelFontSize": 10, "labelExpr": "timeFormat(datetime(2008, 11, 20, 12 + datum.value), '%d/%m')"}
 }
},
"layer": [
 {
  "data": {"name": "temp"},
  "transform": [{"fold": ["01","02","03","04","05","06","07","08","09","10","11","12","13","14","15","16","17","18","19","20"], "as": ["member", "val"]}],
  "mark": {"type": "line", "strokeWidth": 1, "point": {"shape": "M-1,0H1M0,-1V1", "filled": false, "size": 20, "strokeWidth": 1}},
  "encoding": {
   "y": {"field": "val", "type": "quantitative", "scale": {"domain": [-52.857, 32.857], "nice": false, "zero": false},
    "axis": {"orient": "left", "values": [-45,-40,-35,-30,-25,-20,-15,-10,-5,0,5,10,15,20,25,30], "grid": true, "labelPadding": 15, "labelFontSize": 11, "title": "(°C)", "titleAngle": 0, "titleX": -30, "titleY": 607, "titleAlign": "left", "titleBaseline": "middle", "titleFontSize": 10, "titleFontWeight": "normal"}},
   "color": {"field": "member", "type": "nominal",
    "scale": {"domain": ["01","02","03","04","05","06","07","08","09","10","11","12","13","14","15","16","17","18","19","20"], "range": ["#008080","#c0c000","#008000","#ff8000","#00ff00","#800080","#00ff80","#ff00ff","#80ff00","#0080ff","#8080ff","#80ff80","#8888ff","#e0b040","#80a000","#006080","#507080","#806068","#c0c0c0","#808080"]},
    "legend": {"orient": "none", "legendX": 320.5, "legendY": 647.5, "title": "20 Perturbations", "titleOrient": "left", "titleAnchor": "middle", "titleBaseline": "middle", "titleFontSize": 10, "titleFontWeight": "normal", "titlePadding": 5, "direction": "horizontal", "columns": 20, "columnPadding": -1, "symbolType": "M-1,-0.8H1M-1,-0.53H1M-1,-0.27H1M-1,0H1M-1,0.27H1M-1,0.53H1M-1,0.8H1", "symbolSize": 49, "symbolStrokeWidth": 1, "labelExpr": "''", "labelFontSize": 1, "labelOffset": 0}},
   "detail": {"field": "v"}
  }
 },
 {
  "data": {"name": "prec"},
  "transform": [{"fold": ["01","02","03","04","05","06","07","08","09","10","11","12","13","14","15","16","17","18","19","20"], "as": ["member", "val"]}],
  "mark": {"type": "line", "strokeWidth": 1, "point": {"shape": "M-1,0H1M0,-1V1", "filled": false, "size": 20, "strokeWidth": 1}},
  "encoding": {
   "y": {"field": "val", "type": "quantitative", "scale": {"domain": [-7.857, 77.857], "nice": false, "zero": false},
    "axis": {"orient": "right", "values": [0,5,10,15,20,25,30,35,40,45,50,55,60,65,70,75], "grid": false, "labelPadding": 18, "labelFontSize": 11, "title": "(mm)", "titleAngle": 0, "titleX": 16, "titleY": 607, "titleAlign": "left", "titleBaseline": "middle", "titleFontSize": 10, "titleFontWeight": "normal"}},
   "color": {"field": "member", "type": "nominal",
    "scale": {"domain": ["01","02","03","04","05","06","07","08","09","10","11","12","13","14","15","16","17","18","19","20"], "range": ["#008080","#c0c000","#008000","#ff8000","#00ff00","#800080","#00ff80","#ff00ff","#80ff00","#0080ff","#8080ff","#80ff80","#8888ff","#e0b040","#80a000","#006080","#507080","#806068","#c0c0c0","#808080"]},
    "legend": {"orient": "none", "legendX": 421.9, "legendY": 639.5, "title": null, "direction": "horizontal", "columns": 20, "columnPadding": 3, "symbolType": "M0,0", "symbolSize": 1, "symbolStrokeWidth": 0.01, "symbolOpacity": 0, "labelFontSize": 6, "labelOffset": -6, "labelBaseline": "middle"}}
  }
 },
 {
  "data": {"name": "temp"},
  "mark": {"type": "line", "strokeWidth": 3.5},
  "encoding": {
   "y": {"field": "g", "type": "quantitative", "scale": {"domain": [-52.857, 32.857], "nice": false, "zero": false}, "axis": null},
   "color": {"datum": "Run GFS", "type": "nominal", "scale": {"range": ["#000000"]},
    "legend": {"orient": "none", "legendX": 184, "legendY": 652.5, "title": null, "symbolType": "M-15,0H15", "symbolSize": 4, "symbolStrokeWidth": 4, "labelFontSize": 10, "labelOffset": 22}},
   "detail": {"field": "v"}
  }
 },
 {
  "data": {"name": "prec"},
  "mark": {"type": "line", "strokeWidth": 3.5},
  "encoding": {
   "y": {"field": "g", "type": "quantitative", "scale": {"domain": [-7.857, 77.857], "nice": false, "zero": false}, "axis": null},
   "color": {"datum": "Run GFS", "type": "nominal", "scale": {"range": ["#000000"]}, "legend": null}
  }
 },
 {
  "data": {"name": "temp"},
  "mark": {"type": "line", "strokeWidth": 4},
  "encoding": {
   "y": {"field": "c", "type": "quantitative", "scale": {"domain": [-52.857, 32.857], "nice": false, "zero": false}, "axis": null},
   "color": {"datum": "Run de contrôle", "type": "nominal", "scale": {"range": ["#0000ff"]},
    "legend": {"orient": "none", "legendX": 184, "legendY": 642.5, "title": null, "symbolType": "M-15,0H15", "symbolSize": 4, "symbolStrokeWidth": 4, "labelFontSize": 10, "labelOffset": 22}},
   "detail": {"field": "v"}
  }
 },
 {
  "data": {"name": "prec"},
  "mark": {"type": "line", "strokeWidth": 4},
  "encoding": {
   "y": {"field": "c", "type": "quantitative", "scale": {"domain": [-7.857, 77.857], "nice": false, "zero": false}, "axis": null},
   "color": {"datum": "Run de contrôle", "type": "nominal", "scale": {"range": ["#0000ff"]}, "legend": null}
  }
 },
 {
  "data": {"name": "temp"},
  "mark": {"type": "line", "strokeWidth": 5.5},
  "encoding": {
   "y": {"field": "m", "type": "quantitative", "scale": {"domain": [-52.857, 32.857], "nice": false, "zero": false}, "axis": null},
   "color": {"datum": "Moyenne des scénarios", "type": "nominal", "scale": {"range": ["#ff0000"]},
    "legend": {"orient": "none", "legendX": -5.5, "legendY": 647.5, "title": null, "symbolType": "M-15,0H15", "symbolSize": 4, "symbolStrokeWidth": 5, "labelFontSize": 10, "labelOffset": 21.5}},
   "detail": {"field": "v"}
  }
 },
 {
  "data": {"name": "prec"},
  "mark": {"type": "line", "strokeWidth": 5.5},
  "encoding": {
   "y": {"field": "m", "type": "quantitative", "scale": {"domain": [-7.857, 77.857], "nice": false, "zero": false}, "axis": null},
   "color": {"datum": "Moyenne des scénarios", "type": "nominal", "scale": {"range": ["#ff0000"]}, "legend": null},
   "strokeDash": {"datum": "Températures 850hPa et 500hPa (°C) , précipitations (mm)", "type": "nominal", "scale": {"range": [[1, 0]]},
    "legend": {"orient": "none", "legendX": -30, "legendY": 667, "title": "Diagramme des ensembles GEFS sur 384h : 39.9N 3.3E", "titleFontSize": 13.4, "titleFontWeight": "bold", "titlePadding": 2, "labelFontSize": 9.6, "symbolSize": 0, "symbolStrokeWidth": 0, "symbolOpacity": 0, "labelOffset": 0, "padding": 5, "strokeColor": "black"}}
  }
 },
 {
  "data": {"name": "lab"},
  "mark": {"type": "text", "align": "left", "baseline": "middle", "fontSize": 10, "font": "DejaVu Sans Mono", "color": "black"},
  "encoding": {
   "y": {"field": "y", "type": "quantitative", "scale": {"domain": [-52.857, 32.857], "nice": false, "zero": false}, "axis": null},
   "text": {"field": "t"}
  }
 }
],
"resolve": {"scale": {"y": "independent", "color": "independent"}}
}
